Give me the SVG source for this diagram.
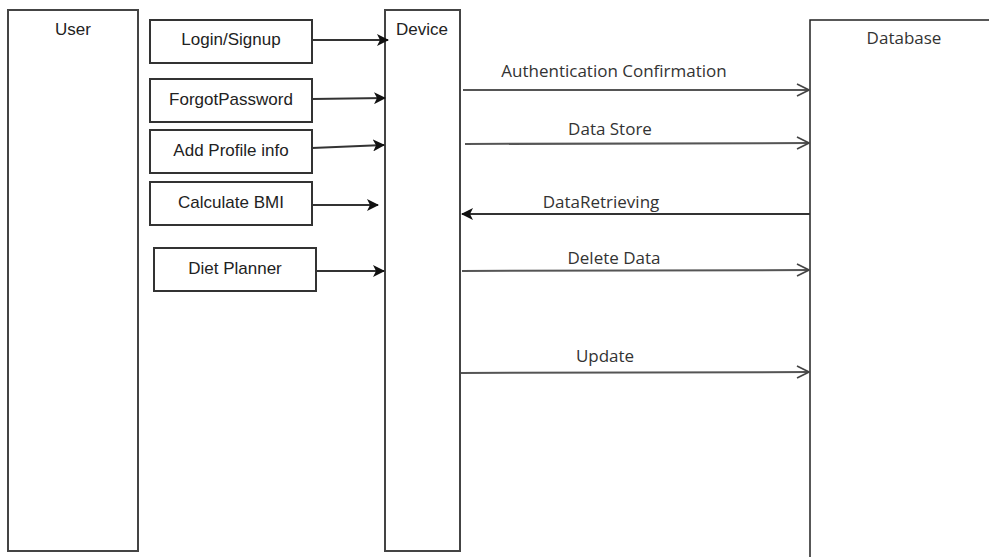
<svg xmlns="http://www.w3.org/2000/svg" width="989" height="557" viewBox="0 0 989 557">
  <style>
    .lane { fill: #fff; stroke: #444; stroke-width: 2; }
    .box { fill: #fff; stroke: #333; stroke-width: 2; }
    .db { fill: #fff; stroke: #222; stroke-width: 1.5; }
    .t { font-family: "Liberation Sans", Arial, sans-serif; font-size: 17px; fill: #222; text-anchor: middle; }
    .lbl { font-family: "Open Sans", "DejaVu Sans", sans-serif; font-size: 17px; fill: #333; text-anchor: middle; }
    .flow { fill: none; stroke: #333; stroke-width: 2; }
    .msg { fill: none; stroke: #555; stroke-width: 2; }
  </style>
  <defs>
    <marker id="solid" viewBox="0 0 12 12" refX="11" refY="6" markerWidth="12" markerHeight="12" markerUnits="userSpaceOnUse" orient="auto">
      <path d="M0,0 L12,6 L0,12 L3,6 Z" fill="#111"/>
    </marker>
    <marker id="open" viewBox="0 0 14 14" refX="13" refY="7" markerWidth="14" markerHeight="14" markerUnits="userSpaceOnUse" orient="auto">
      <path d="M1,1 L13,7 L1,13" fill="none" stroke="#444" stroke-width="1.6"/>
    </marker>
  </defs>

  <!-- lifelines -->
  <g id="user">
    <rect class="lane" x="8" y="10" width="130" height="541"/>
    <text class="t" x="73" y="35">User</text>
  </g>
  <g id="device">
    <rect class="lane" x="385" y="10" width="75" height="541"/>
    <text class="t" x="422" y="35">Device</text>
  </g>
  <g id="database">
    <rect class="db" x="810" y="20" width="200" height="560"/>
    <text class="lbl" x="904" y="44">Database</text>
  </g>

  <!-- actions -->
  <g id="login">
    <rect class="box" x="150" y="20" width="162" height="43"/>
    <text class="t" x="231" y="45">Login/Signup</text>
  </g>
  <g id="forgot">
    <rect class="box" x="150" y="79" width="162" height="43"/>
    <text class="t" x="231" y="105">ForgotPassword</text>
  </g>
  <g id="profile">
    <rect class="box" x="150" y="130" width="162" height="43"/>
    <text class="t" x="231" y="156">Add Profile info</text>
  </g>
  <g id="bmi">
    <rect class="box" x="150" y="182" width="162" height="43"/>
    <text class="t" x="231" y="208">Calculate BMI</text>
  </g>
  <g id="diet">
    <rect class="box" x="154" y="248" width="162" height="43"/>
    <text class="t" x="235" y="274">Diet Planner</text>
  </g>

  <!-- connectors -->
  <g id="connectors">
    <line class="flow" x1="312" y1="40" x2="388" y2="40" marker-end="url(#solid)"/>
    <line class="flow" x1="312" y1="99" x2="385" y2="98" marker-end="url(#solid)"/>
    <line class="flow" x1="312" y1="148" x2="384" y2="145" marker-end="url(#solid)"/>
    <line class="flow" x1="312" y1="205" x2="378" y2="205" marker-end="url(#solid)"/>
    <line class="flow" x1="316" y1="271" x2="384" y2="271" marker-end="url(#solid)"/>

    <line class="msg" x1="463" y1="90" x2="809" y2="90" marker-end="url(#open)"/>
    <text class="lbl" x="614" y="77">Authentication Confirmation</text>

    <line class="msg" x1="465" y1="144" x2="809" y2="143" marker-end="url(#open)"/>
    <text class="lbl" x="610" y="135">Data Store</text>

    <line class="flow" x1="810" y1="214" x2="462" y2="214" marker-end="url(#solid)"/>
    <text class="lbl" x="601" y="208">DataRetrieving</text>

    <line class="msg" x1="462" y1="271" x2="809" y2="270" marker-end="url(#open)"/>
    <text class="lbl" x="614" y="264">Delete Data</text>

    <line class="msg" x1="461" y1="373" x2="809" y2="372" marker-end="url(#open)"/>
    <text class="lbl" x="605" y="362">Update</text>
  </g>
</svg>
